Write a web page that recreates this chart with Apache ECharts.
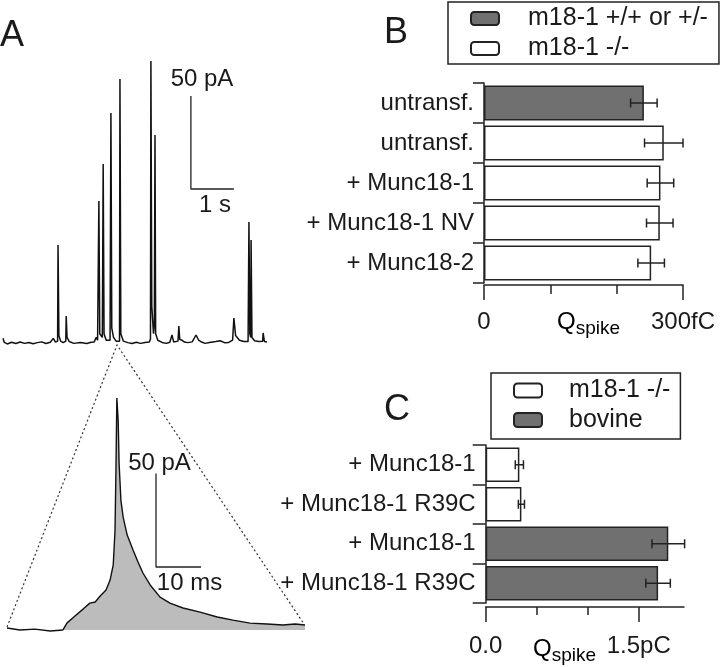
<!DOCTYPE html>
<html><head><meta charset="utf-8">
<script src="https://cdn.jsdelivr.net/npm/echarts@6/dist/echarts.min.js"></script>
<style>html,body{margin:0;padding:0;background:#fff}#c{width:720px;height:667px}</style>
</head><body><div id="c"></div>
<script>
// ---------- Panel A: amperometric recording (time in s, current in pA) ----------
const traceTime = [0.00,0.03,0.10,0.20,0.30,0.40,0.50,0.60,0.70,0.80,0.90,1.00,1.10,1.17,1.22,1.27,1.28,1.30,1.34,1.40,1.46,1.47,1.49,1.54,1.65,1.80,1.95,2.05,2.12,2.17,2.20,2.22,2.23,2.25,2.31,2.33,2.35,2.40,2.49,2.51,2.53,2.57,2.63,2.71,2.72,2.74,2.80,2.90,3.00,3.10,3.20,3.30,3.40,3.43,3.44,3.46,3.50,3.52,3.535,3.55,3.60,3.70,3.80,3.88,3.93,3.97,4.07,4.09,4.11,4.16,4.22,4.30,4.40,4.49,4.55,4.62,4.70,4.80,4.95,5.05,5.15,5.25,5.34,5.37,5.41,5.50,5.60,5.70,5.72,5.74,5.76,5.77,5.79,5.85,5.95,6.04,6.05,6.08,6.14];
const traceCurrent = [2.5,0.3,-0.5,0.4,-0.3,0.5,-0.2,0.3,-0.4,0.2,0.6,-0.3,0.4,2.5,0.5,1.0,52.7,4,1.0,0.2,1.0,14.5,3,0.8,-0.2,0.3,-0.3,0.4,0.6,3,1.5,2,76.3,5,3,96.2,5,1.5,1.5,123.7,8,3,1,1,141.9,5,1,0.2,-0.3,0.4,-0.2,0.3,0.5,2,151.6,20,5,10,111.8,5,1.5,0.3,-0.2,0.4,4.3,0.5,1,9.1,2,1.5,0.5,0.2,0.6,4.3,1.5,0.5,-0.2,0.3,0.8,1.2,0.2,0.3,1.5,13.4,4,1.5,0.8,0.8,65,5,3,55.4,3,1.2,0.8,1,5.4,0.8,0.5];
// single spike (time in ms, current in pA)
const spikeTime = [0,2.9,6.2,9.6,12.4,13.3,15.1,16.9,18.4,19.6,20.7,22.0,22.9,23.6,24.0,24.2,24.4,24.7,24.9,25.3,25.8,26.7,28.0,29.1,30.2,31.8,34.0,36.2,39.1,42.9,46.7,50.2,54.0,57.8,61.3,64.0,66.2];
const spikeCurrent = [1.1,0,0.5,-0.5,0,3.7,7.5,11.2,14.4,15,18.2,21.4,26.7,34.8,53.5,85.6,124,112,89.3,69.5,60.4,50.8,42.8,36.4,30.5,24.1,17.6,14.4,11.8,9.6,7.0,5.3,3.7,3.2,2.7,3.2,2.7];
const spikeOnsetIndex = 4;
// scale bars: [size along time, size along current]
const scaleBarTop = [1, 50];      // 1 s, 50 pA
const scaleBarSpike = [10, 50];   // 10 ms, 50 pA
const scaleBarTopAnchor = [4.37, 82.8];
const scaleBarSpikeAnchor = [33.1, 33.7];

// ---------- Panel B ----------
const catsB = ['untransf.', 'untransf.', '+ Munc18-1', '+ Munc18-1 NV', '+ Munc18-2'];
const qB = [241, 271, 266, 265, 252];
const errB = [20, 29, 20, 20, 20];
const genotypeB = ['wt', 'ko', 'ko', 'ko', 'ko'];
const tickLabelsB = ['0', '300fC'];

// ---------- Panel C ----------
const catsC = ['+ Munc18-1', '+ Munc18-1 R39C', '+ Munc18-1', '+ Munc18-1 R39C'];
const qC = [0.33, 0.35, 1.79, 1.69];
const errC = [0.04, 0.03, 0.16, 0.12];
const groupC = ['ko', 'ko', 'bov', 'bov'];
const tickLabelsC = ['0.0', '1.5pC'];

const nameWT = 'm18-1 +/+ or +/-';
const nameKO = 'm18-1 -/-';
const nameBov = 'bovine';

const FONT = 'Liberation Sans';
const INK = '#1a1a1a';
const DARK = '#707070';

const zip = (a, b) => a.map((v, i) => [v, b[i]]);
const spikePts = zip(spikeTime, spikeCurrent);

function scaleBarData(anchor, size) {
  return [[anchor[0], anchor[1] + size[1]], [anchor[0], anchor[1]], [anchor[0] + size[0], anchor[1]]];
}
function errRender(params, api) {
  const v = api.value(0), c = api.value(1), e = api.value(2);
  const lo = api.coord([v - e, c]);
  const hi = api.coord([v + e, c]);
  const y = lo[1];
  const st = {stroke: '#222', lineWidth: 1.5};
  return {type: 'group', children: [
    {type: 'line', shape: {x1: lo[0], y1: y, x2: hi[0], y2: y}, style: st},
    {type: 'line', shape: {x1: lo[0], y1: y - 4.5, x2: lo[0], y2: y + 4.5}, style: st},
    {type: 'line', shape: {x1: hi[0], y1: y - 4.5, x2: hi[0], y2: y + 4.5}, style: st}
  ]};
}
const barStyle = (fill) => ({color: fill, borderColor: '#222', borderWidth: 1.5});
const axisInk = {show: true, lineStyle: {color: '#222', width: 1.5}};
const tick = (len, extra) => Object.assign({show: true, inside: false, length: len, lineStyle: {color: '#222', width: 1.5}}, extra || {});

const chart = echarts.init(document.getElementById('c'), null, {renderer: 'canvas'});
const qRich = (qs, ss, lh) => ({q: {fontSize: qs, fontFamily: FONT, color: INK, lineHeight: lh, verticalAlign: 'middle'},
                       s: {fontSize: ss, fontFamily: FONT, color: INK, lineHeight: lh, verticalAlign: 'bottom'}});
function txt(text, x, y, size, align) {
  return {type: 'text', x: x, y: y, style: {text: text, fontSize: size, fontFamily: FONT, fill: INK, align: align || 'center', verticalAlign: 'middle'}};
}
function qspike(x, y, qs, ss) {
  return {type: 'text', x: x, y: y, style: {text: '{q|Q}{s|spike}', rich: qRich(qs, ss, 32), align: 'left', verticalAlign: 'top'}};
}

const option = {
  animation: false,
  backgroundColor: '#fff',
  textStyle: {fontFamily: FONT, color: INK},
  grid: [
    {left: 3, top: 45.4, width: 264, height: 316.2},
    {left: 7, top: 386.9, width: 298, height: 252.5},
    {left: 484, top: 83, width: 199, height: 200},
    {left: 485.7, top: 445, width: 198.3, height: 158}
  ],
  xAxis: [
    {gridIndex: 0, type: 'value', min: 0, max: 6.14, show: false},
    {gridIndex: 1, type: 'value', min: 0, max: 66.2, show: false},
    {gridIndex: 2, type: 'value', position: 'bottom', min: 0, max: 300, interval: 300, offset: 2,
     axisLine: axisInk, axisTick: tick(15),
     minorTick: {show: true, splitNumber: 3, length: 9, lineStyle: {color: '#222', width: 1.5}},
     splitLine: {show: false}, minorSplitLine: {show: false},
     axisLabel: {show: true, fontSize: 24, fontFamily: FONT, color: INK, margin: 25,
       formatter: v => v === 0 ? tickLabelsB[0] : tickLabelsB[1]}},
    {gridIndex: 3, type: 'value', position: 'bottom', min: 0, max: 1.944, offset: 4,
     axisLine: axisInk, axisTick: tick(15, {customValues: [0, 1.5]}),
     splitLine: {show: false},
     axisLabel: {show: true, customValues: [0, 1.5], fontSize: 24, fontFamily: FONT, color: INK, margin: 27,
       formatter: v => v === 0 ? tickLabelsC[0] : tickLabelsC[1]}},
    {gridIndex: 3, type: 'value', position: 'bottom', min: 0, max: 1.944, offset: 4,
     axisLine: {show: false}, axisTick: tick(8, {customValues: [0.5, 1.0]}),
     splitLine: {show: false}, axisLabel: {show: false}}
  ],
  yAxis: [
    {gridIndex: 0, type: 'value', min: -10, max: 160, show: false},
    {gridIndex: 1, type: 'value', min: -5, max: 130, show: false},
    {gridIndex: 2, type: 'category', data: catsB, inverse: true,
     axisLine: axisInk, axisTick: tick(11, {alignWithLabel: false, interval: 0}),
     axisLabel: {show: true, fontSize: 24, fontFamily: FONT, color: INK, margin: 10, interval: 0}},
    {gridIndex: 3, type: 'category', data: catsC, inverse: true,
     axisLine: axisInk, axisTick: tick(13, {alignWithLabel: false, interval: 0}),
     axisLabel: {show: true, fontSize: 24, fontFamily: FONT, color: INK, margin: 10, interval: 0}}
  ],
  legend: [
    {data: [nameWT, nameKO], orient: 'vertical', left: 448, top: 2, selectedMode: false,
     icon: 'roundRect', itemWidth: 28, itemHeight: 13, itemGap: 5,
     padding: [4, 11, 3, 22], borderColor: '#222', borderWidth: 1.5, backgroundColor: '#fff',
     itemStyle: {borderColor: '#222', borderWidth: 2},
     textStyle: {fontSize: 25, fontFamily: FONT, color: INK, padding: [0, 0, 0, 24]}},
    {data: [nameKO, nameBov], orient: 'vertical', left: 491, top: 373, selectedMode: false,
     icon: 'roundRect', itemWidth: 28, itemHeight: 14, itemGap: 4.5,
     padding: [5, 10, 6.5, 22], borderColor: '#222', borderWidth: 1.5, backgroundColor: '#fff',
     itemStyle: {borderColor: '#222', borderWidth: 2},
     textStyle: {fontSize: 25, fontFamily: FONT, color: INK, padding: [0, 0, 0, 22]}}
  ],
  series: [
    {type: 'line', xAxisIndex: 0, yAxisIndex: 0, data: zip(traceTime, traceCurrent), symbol: 'none',
     lineStyle: {color: '#111', width: 1.5}, clip: false},
    {type: 'line', xAxisIndex: 0, yAxisIndex: 0, data: scaleBarData(scaleBarTopAnchor, scaleBarTop), symbol: 'none',
     lineStyle: {color: '#222', width: 1.3}},
    {type: 'line', xAxisIndex: 1, yAxisIndex: 1, data: spikePts.slice(0, spikeOnsetIndex + 1), symbol: 'none',
     lineStyle: {color: '#111', width: 1.4}},
    {type: 'line', xAxisIndex: 1, yAxisIndex: 1, data: spikePts.slice(spikeOnsetIndex), symbol: 'none',
     lineStyle: {color: '#111', width: 1.4}, areaStyle: {color: '#bcbcbc', opacity: 1}},
    {type: 'line', xAxisIndex: 1, yAxisIndex: 1, data: scaleBarData(scaleBarSpikeAnchor, scaleBarSpike), symbol: 'none',
     lineStyle: {color: '#222', width: 1.3}},
    {name: nameWT, type: 'bar', xAxisIndex: 2, yAxisIndex: 2, stack: 'B', barCategoryGap: '12.5%',
     data: qB.map((v, i) => genotypeB[i] === 'wt' ? v : '-'), itemStyle: barStyle(DARK)},
    {name: nameKO, type: 'bar', xAxisIndex: 2, yAxisIndex: 2, stack: 'B', barCategoryGap: '12.5%',
     data: qB.map((v, i) => genotypeB[i] === 'ko' ? v : '-'), itemStyle: barStyle('#fff')},
    {type: 'custom', xAxisIndex: 2, yAxisIndex: 2, z: 5, renderItem: errRender,
     encode: {x: 0, y: 1}, data: qB.map((v, i) => [v, i, errB[i]])},
    {name: nameKO, type: 'bar', xAxisIndex: 3, yAxisIndex: 3, stack: 'C', barCategoryGap: '12.5%',
     data: qC.map((v, i) => groupC[i] === 'ko' ? v : '-'), itemStyle: barStyle('#fff')},
    {name: nameBov, type: 'bar', xAxisIndex: 3, yAxisIndex: 3, stack: 'C', barCategoryGap: '12.5%',
     data: qC.map((v, i) => groupC[i] === 'bov' ? v : '-'), itemStyle: barStyle(DARK)},
    {type: 'custom', xAxisIndex: 3, yAxisIndex: 3, z: 5, renderItem: errRender,
     encode: {x: 0, y: 1}, data: qC.map((v, i) => [v, i, errC[i]])}
  ],
  graphic: [
    txt('A', 0, 36.5, 36, 'left'),
    txt('B', 384, 33, 36, 'left'),
    txt('C', 384, 410, 36, 'left'),
    txt('50 pA', 202, 79, 24),
    txt('1 s', 215, 205.5, 24),
    txt('50 pA', 159.5, 463.5, 24),
    txt('10 ms', 189.5, 583.5, 24),
    qspike(108, 595, 24, 17),
    qspike(557, 306, 24, 19),
    qspike(533, 633, 24, 19),
    {type: 'polyline', shape: {points: [[7, 627], [117, 345], [304, 624]]},
     style: {stroke: '#333', lineWidth: 1.2, lineDash: [2, 2.5], fill: null}}
  ]
};
chart.setOption(option);
</script></body></html>
